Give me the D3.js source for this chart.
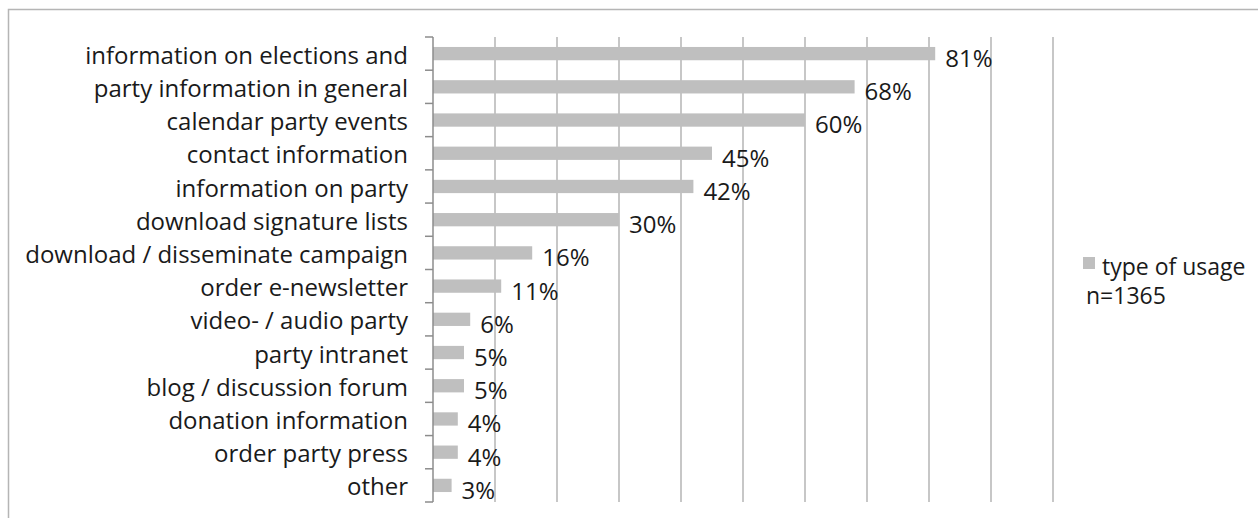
<!DOCTYPE html>
<html>
<head>
<meta charset="utf-8">
<script src="https://cdn.jsdelivr.net/npm/d3@7"></script>
<style>
  body { margin: 0; background: #fff; }
  text { font-family: "Open Sans", Lato, sans-serif; fill: #1a1a1a; }
</style>
</head>
<body>
<div id="usage-chart"></div>
<script>
const categories = ["information on elections and", "party information in general", "calendar party events",
    "contact information", "information on party", "download signature lists",
    "download / disseminate campaign", "order e-newsletter", "video- / audio party", "party intranet",
    "blog / discussion forum", "donation information", "order party press", "other"];
const values = [81, 68, 60, 45, 42, 30, 16, 11, 6, 5, 5, 4, 4, 3];
const gridTicks = [10, 20, 30, 40, 50, 60, 70, 80, 90, 100];
const legendLines = ["type of usage", "n=1365"];

const W = 1258, H = 518;
const fontSize = "24px";
const margin = { top: 37, right: 205, bottom: 16, left: 433 },
    width = W - margin.left - margin.right,
    height = H - margin.top - margin.bottom;

const svg = d3.select("#usage-chart")
    .append("svg")
    .attr("width", W)
    .attr("height", H);

// outer frame (only top and left edges are visible)
svg.append("rect")
    .attr("x", 8.5).attr("y", 9.5)
    .attr("width", W + 20).attr("height", H + 20)
    .attr("fill", "none")
    .attr("stroke", "#b5b5b5")
    .attr("stroke-width", 1.5);

const g = svg.append("g")
    .attr("transform", `translate(${margin.left},${margin.top})`);

const x = d3.scaleLinear().domain([0, 100]).range([0, width]);
const y = d3.scaleBand().domain(categories).range([0, height])
    .paddingInner(0.6).paddingOuter(0.3);

// vertical gridlines
g.selectAll(".grid")
    .data(gridTicks)
    .join("line")
    .attr("x1", d => x(d)).attr("x2", d => x(d))
    .attr("y1", 0).attr("y2", height)
    .attr("stroke", "#b4b4b4")
    .attr("stroke-width", 1.5);

// bars
g.selectAll(".bar")
    .data(values)
    .join("rect")
    .attr("x", 0)
    .attr("y", (d, i) => y(categories[i]))
    .attr("width", d => x(d))
    .attr("height", y.bandwidth())
    .attr("fill", "#bfbfbf");

// value labels (sit a little below the bar centre, as in the original)
g.selectAll(".val")
    .data(values)
    .join("text")
    .attr("x", d => x(d) + 10)
    .attr("y", (d, i) => y(categories[i]) + y.bandwidth() / 2)
    .attr("dy", "0.56em")
    .style("font-size", fontSize)
    .text(d => d + "%");

// category axis: labels centred on bands, ticks on band boundaries
const yAxis = g.append("g")
    .call(d3.axisLeft(y).tickSize(0).tickPadding(25));
yAxis.select(".domain").remove();
yAxis.selectAll("text")
    .attr("dy", "0.42em")
    .style("font-size", fontSize)
    .style("font-family", "'Open Sans', Lato, sans-serif")
    .attr("fill", "#1a1a1a");

g.append("line")
    .attr("x1", 0).attr("x2", 0)
    .attr("y1", 0).attr("y2", height)
    .attr("stroke", "#8c8c8c")
    .attr("stroke-width", 1.5);

g.selectAll(".tick-b")
    .data(d3.range(categories.length + 1))
    .join("line")
    .attr("x1", -8).attr("x2", 0)
    .attr("y1", i => i * y.step()).attr("y2", i => i * y.step())
    .attr("stroke", "#8c8c8c")
    .attr("stroke-width", 1.5);

// legend
const legend = svg.append("g").attr("transform", "translate(1083,257)");
legend.append("rect")
    .attr("width", 12).attr("height", 12)
    .attr("fill", "#bfbfbf");
legend.selectAll("text")
    .data(legendLines)
    .join("text")
    .attr("x", (d, i) => i == 0 ? 19 : 3)
    .attr("y", (d, i) => 18 + i * 29)
    .style("font-size", "23px")
    .text(d => d);
</script>
</body>
</html>
